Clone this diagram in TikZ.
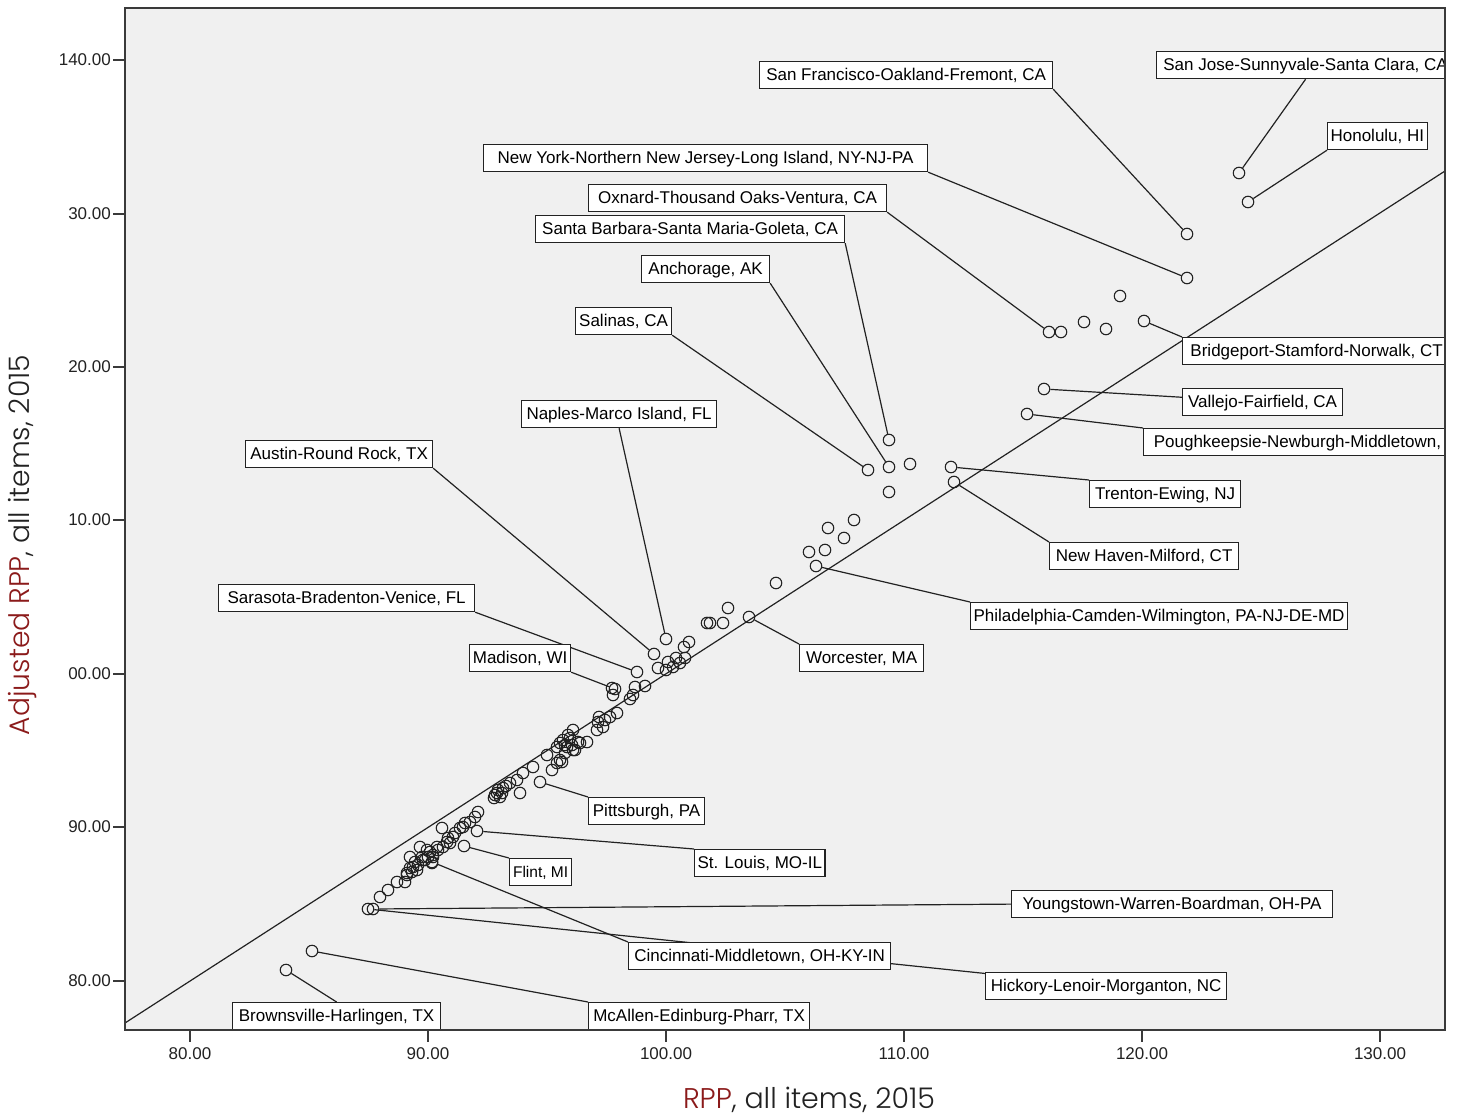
\documentclass[tikz,border=0pt]{standalone}
\usepackage{fontspec}
\usepackage{graphicx}
\setmainfont{Liberation Sans}
\IfFontExistsTF{Poppins Light}{\newfontfamily\titlefont{Poppins Light}}{\newfontfamily\titlefont{Poppins}}
\usetikzlibrary{calc}
\definecolor{bgc}{HTML}{F0F0F0}
\definecolor{frm}{HTML}{3A3A3A}
\definecolor{ink}{HTML}{222222}
\definecolor{ttl}{HTML}{8B1A1A}
\pgfdeclarelayer{back}
\pgfdeclarelayer{lines}
\pgfsetlayers{back,lines,main}
\tikzset{
  pt/.style={circle,draw=ink,line width=1.1pt,minimum size=11.5pt,inner sep=0pt},
  lbl/.style={draw=ink,fill=white,line width=1.2pt,anchor=north west,inner xsep=3pt,inner ysep=5.75pt,text height=13pt,text depth=2.5pt,font=\fontsize{17}{18}\selectfont,text=black,minimum width=#1},
  lbl/.default=10pt,
  lead/.style={draw=ink,line width=1.2pt},
  tickmark/.style={draw=frm,line width=2pt},
  ticklbl/.style={font=\fontsize{17}{18}\selectfont,text=ink,inner sep=0pt}
}
\begin{document}
\begin{tikzpicture}[x=1pt,y=-1pt]
\useasboundingbox (0,0) rectangle (1461,1118);
\begin{pgfonlayer}{back}
\fill[white] (0,0) rectangle (1461,1118);
\fill[bgc] (125,8) rectangle (1445,1030);
\end{pgfonlayer}
% axes ticks
\foreach \yy/\t [count=\i] in {60/140.00,214/30.00,367/20.00,520/10.00,674/00.00,827/90.00,981/80.00}{
  \coordinate (ya\i) at (113,\yy);
  \coordinate (yb\i) at (125,\yy);
  \draw[tickmark] (ya\i) -- (yb\i);
  \node[ticklbl,anchor=east] (yl\i) at (111,\yy) {\t};
}
\foreach \xx/\t [count=\i] in {190/80.00,428/90.00,666/100.00,904/110.00,1142/120.00,1380/130.00}{
  \coordinate (xa\i) at (\xx,1030);
  \coordinate (xb\i) at (\xx,1042);
  \draw[tickmark] (xa\i) -- (xb\i);
  \node[ticklbl,anchor=north] (xl\i) at (\xx,1047) {\t};
}
% axis titles
\node[inner sep=0pt,text=ink] (xt) at (809,1100) {\resizebox{252pt}{!}{\titlefont\textcolor{ttl}{RPP}, all items, 2015}};
\node[inner sep=0pt,text=ink,rotate=90] (yt) at (23,545) {\resizebox{380pt}{!}{\titlefont\textcolor{ttl}{Adjusted RPP}, all items, 2015}};
% diagonal
\coordinate (d1) at (125,1023);
\coordinate (d2) at (1445,171);
\begin{pgfonlayer}{lines}
\draw[lead] (d1) -- (d2);
\end{pgfonlayer}
% labelled points
\node[pt] (sf) at (1187,234) {};
\node[pt] (sj) at (1239,173) {};
\node[pt] (hon) at (1248,202) {};
\node[pt] (ny) at (1187,278) {};
\node[pt] (ox) at (1049,332) {};
\node[pt] (sb) at (889,440) {};
\node[pt] (anc) at (889,467) {};
\node[pt] (sal) at (868,470) {};
\node[pt] (nap) at (666,639) {};
\node[pt] (aus) at (654,654) {};
\node[pt] (sar) at (637,672) {};
\node[pt] (mad) at (615,689) {};
\node[pt] (pit) at (540,782) {};
\node[pt] (stl) at (477,831) {};
\node[pt] (fli) at (464,846) {};
\node[pt] (cin) at (432,862) {};
\node[pt] (yng) at (373,909) {};
\node[pt] (hic) at (368,909) {};
\node[pt] (mca) at (312,951) {};
\node[pt] (bro) at (286,970) {};
\node[pt] (bri) at (1144,321) {};
\node[pt] (val) at (1044,389) {};
\node[pt] (pou) at (1027,414) {};
\node[pt] (tre) at (951,467) {};
\node[pt] (nh) at (954,482) {};
\node[pt] (phi) at (816,566) {};
\node[pt] (wor) at (749,617) {};
% other points
\foreach \px/\py [count=\i] in {
1061/332,1084/322,1106/329,1120/296,910/464,889/492,854/520,828/528,844/538,809/552,825/550,776/583,728/608,710/623,707/623,723/623,689/642,684/647,
685/658,676/658,668/662,658/668,673/667,666/670,680/663,645/686,635/687,633/695,630/699,612/688,613/695,617/713,610/717,599/717,603/727,597/730,587/742,580/743,573/730,568/735,563/740,560/743,557/747,567/747,573/750,565/753,560/760,557/763,552/770,547/755,533/767,523/773,517/780,520/793,510/783,503/788,497/793,500/797,605/720,598/722,578/742,575/750,562/762,570/738,565/745,572/745,495/795,498/790,502/793,494/798,506/786,
478/812,475/817,470/822,465/823,463/827,442/828,453/837,447/842,460/828,455/833,448/838,450/843,443/847,437/847,438/850,427/850,433/855,428/857,425/860,420/847,410/857,415/862,413/867,410/868,423/860,417/870,407/873,412/872,407/875,405/882,397/882,388/890,380/897,433/857,432/863,430/852,422/857,418/865}{
  \node[pt] (q\i) at (\px,\py) {};
}
% labels (clipped to plot area)
\begin{scope}
\clip (125,8) rectangle (1445,1030);
\node[lbl=293pt] (Lsf) at (759,61) {San Francisco-Oakland-Fremont, CA};
\node[lbl=298pt] (Lsj) at (1156,51) {San Jose-Sunnyvale-Santa Clara, CA};
\node[lbl=98pt] (Lhon) at (1327,122) {Honolulu, HI};
\node[lbl=444pt] (Lny) at (483,144) {New York-Northern New Jersey-Long Island, NY-NJ-PA};
\node[lbl=298pt] (Lox) at (588,184) {Oxnard-Thousand Oaks-Ventura, CA};
\node[lbl=309pt] (Lsb) at (535,215) {Santa Barbara-Santa Maria-Goleta, CA};
\node[lbl=128pt] (Lanc) at (641,255) {Anchorage, AK};
\node[lbl=96pt] (Lsal) at (575,307) {Salinas, CA};
\node[lbl=195pt] (Lnap) at (521,400) {Naples-Marco Island, FL};
\node[lbl=187pt] (Laus) at (245,440) {Austin-Round Rock, TX};
\node[lbl=256pt] (Lsar) at (218,584) {Sarasota-Bradenton-Venice, FL};
\node[lbl=101pt] (Lmad) at (469,644) {Madison, WI};
\node[lbl=116pt] (Lpit) at (588,797) {Pittsburgh, PA};
\node[lbl=129pt] (Lstl) at (694,849) {St. Louis, MO-IL};
\node[lbl=62pt,inner xsep=1.5pt,font=\fontsize{15.5}{18}\selectfont] (Lfli) at (509,858) {Flint, MI};
\node[lbl=262pt] (Lcin) at (628,942) {Cincinnati-Middletown, OH-KY-IN};
\node[lbl=321pt] (Lyng) at (1011,890) {Youngstown-Warren-Boardman, OH-PA};
\node[lbl=241pt] (Lhic) at (985,972) {Hickory-Lenoir-Morganton, NC};
\node[lbl=221pt] (Lmca) at (588,1002) {McAllen-Edinburg-Pharr, TX};
\node[lbl=208pt] (Lbro) at (232,1002) {Brownsville-Harlingen, TX};
\node[lbl=268pt] (Lbri) at (1182,337) {Bridgeport-Stamford-Norwalk, CT};
\node[lbl=160pt] (Lval) at (1182,388) {Vallejo-Fairfield, CA};
\node[lbl=336pt] (Lpou) at (1143,428) {Poughkeepsie-Newburgh-Middletown, NY};
\node[lbl=151pt] (Ltre) at (1089,480) {Trenton-Ewing, NJ};
\node[lbl=189pt] (Lnh) at (1049,542) {New Haven-Milford, CT};
\node[lbl=372pt] (Lphi) at (970,602) {Philadelphia-Camden-Wilmington, PA-NJ-DE-MD};
\node[lbl=124pt] (Lwor) at (799,644) {Worcester, MA};
\end{scope}
% leaders
\begin{pgfonlayer}{lines}
\draw[lead] (sf) -- (Lsf.south east);
\draw[lead] (sj) -- (Lsj.south);
\draw[lead] (hon) -- (Lhon.south west);
\draw[lead] (ny) -- (Lny.south east);
\draw[lead] (ox) -- (Lox.south east);
\draw[lead] (sb) -- (Lsb.south east);
\draw[lead] (anc) -- (Lanc.south east);
\draw[lead] (sal) -- (Lsal.south east);
\draw[lead] (nap) -- (Lnap.south);
\draw[lead] (aus) -- (Laus.south east);
\draw[lead] (sar) -- (Lsar.south east);
\draw[lead] (mad) -- (Lmad.south east);
\draw[lead] (pit) -- (Lpit.north west);
\draw[lead] (stl) -- (Lstl.north west);
\draw[lead] (fli) -- (Lfli.north west);
\draw[lead] (cin) -- (Lcin.north west);
\draw[lead] (yng) -- (Lyng.west);
\draw[lead] (hic) -- (Lhic.center);
\draw[lead] (mca) -- (Lmca.north west);
\draw[lead] (bro) -- (Lbro.north);
\draw[lead] (bri) -- (Lbri.north west);
\draw[lead] (val) -- (Lval.center);
\draw[lead] (pou) -- (Lpou.north west);
\draw[lead] (tre) -- (Ltre.north west);
\draw[lead] (nh) -- (Lnh.north west);
\draw[lead] (phi) -- (Lphi.north west);
\draw[lead] (wor) -- (Lwor.north west);
\end{pgfonlayer}
% frame
\draw[frm,line width=2pt] (125,8) rectangle (1445,1030);
\end{tikzpicture}
\end{document}
